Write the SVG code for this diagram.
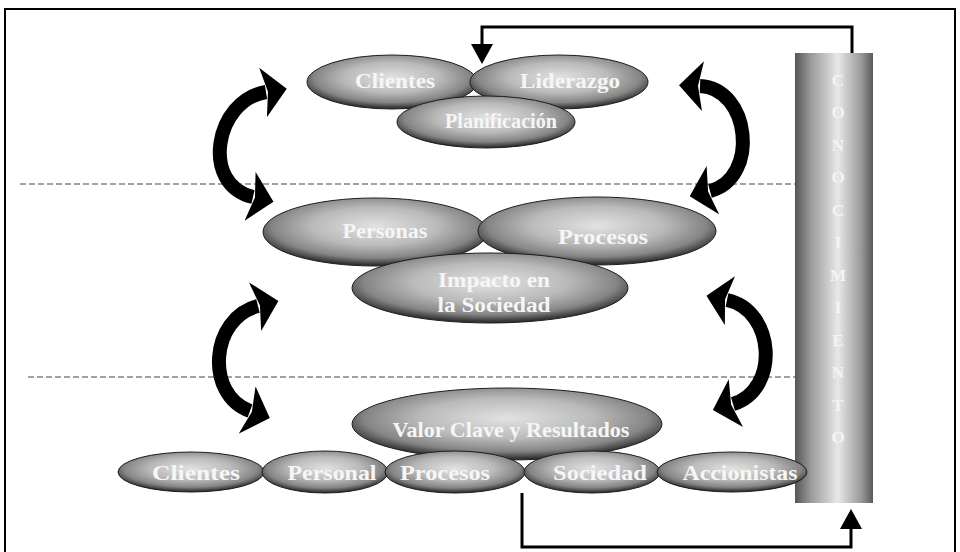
<svg xmlns="http://www.w3.org/2000/svg" width="960" height="552" viewBox="0 0 960 552">
  <defs>
    <radialGradient id="eggFill" cx="0.5" cy="0.42" r="0.56">
      <stop offset="0" stop-color="#e2e2e2"/>
      <stop offset="0.5" stop-color="#bababa"/>
      <stop offset="0.82" stop-color="#858585"/>
      <stop offset="1" stop-color="#333"/>
    </radialGradient>
    <linearGradient id="barFill" x1="0" y1="0" x2="1" y2="0">
      <stop offset="0" stop-color="#555"/>
      <stop offset="0.2" stop-color="#999"/>
      <stop offset="0.55" stop-color="#e8e8e8"/>
      <stop offset="0.85" stop-color="#999"/>
      <stop offset="1" stop-color="#5a5a5a"/>
    </linearGradient>
    <marker id="bigHead" markerUnits="userSpaceOnUse" markerWidth="24" markerHeight="50" viewBox="0 0 24 50" refX="3" refY="25" orient="auto-start-reverse">
      <path d="M0,0 L24,25 L0,50 L5,25 Z" fill="#000"/>
    </marker>
    <marker id="smallHead" markerUnits="userSpaceOnUse" markerWidth="20" markerHeight="22" viewBox="0 0 20 22" refX="2" refY="11" orient="auto">
      <path d="M0,0 L20,11 L0,22 Z" fill="#000"/>
    </marker>
  </defs>
  <style>
    .egg { fill: url(#eggFill); stroke: #1e1e1e; stroke-width: 1; }
    .lbl { font-family: "Liberation Serif", "Times New Roman", serif; font-weight: bold; font-size: 21px; fill: #f6f6f6; text-anchor: middle; }
    .bar-letter { font-family: "Liberation Serif", "Times New Roman", serif; font-weight: bold; font-size: 17px; fill: #f4f4f4; text-anchor: middle; }
    .guide { stroke: #444; stroke-width: 1; stroke-dasharray: 6 3; fill: none; }
    .flow { stroke: #000; stroke-width: 3; fill: none; }
    .cycle { stroke: #000; stroke-width: 14; fill: none; marker-start: url(#bigHead); marker-end: url(#bigHead); }
  </style>

  <rect x="0" y="0" width="960" height="552" fill="#fff"/>
  <!-- outer frame -->
  <rect x="5" y="9" width="950" height="560" fill="none" stroke="#000" stroke-width="2"/>

  <!-- level separators -->
  <line class="guide" x1="20" y1="184" x2="795" y2="184"/>
  <line class="guide" x1="28" y1="377" x2="800" y2="377"/>
  <line x1="795" y1="377" x2="821" y2="377" stroke="#222" stroke-width="1.2"/>

  <!-- knowledge column -->
  <g id="conocimiento">
    <rect x="795" y="53" width="78" height="450" fill="url(#barFill)"/>
    <text class="bar-letter" x="838" y="86">C</text>
    <text class="bar-letter" x="838" y="118">O</text>
    <text class="bar-letter" x="838" y="151">N</text>
    <text class="bar-letter" x="838" y="183">O</text>
    <text class="bar-letter" x="838" y="216">C</text>
    <text class="bar-letter" x="838" y="248">I</text>
    <text class="bar-letter" x="838" y="281">M</text>
    <text class="bar-letter" x="838" y="313">I</text>
    <text class="bar-letter" x="838" y="346">E</text>
    <text class="bar-letter" x="838" y="378">N</text>
    <text class="bar-letter" x="838" y="411">T</text>
    <text class="bar-letter" x="838" y="443">O</text>
  </g>

  <!-- connectors -->
  <g id="connectors">
    <polyline class="flow" points="852,53 852,27 482,27 482,46" marker-end="url(#smallHead)"/>
    <polyline class="flow" points="522,493 522,547 851,547 851,527" marker-end="url(#smallHead)"/>
    <path class="cycle" d="M 266,92 C 215,100 200,185 253,197"/>
    <path class="cycle" d="M 700,86 C 750,88 760,178 710,191"/>
    <path class="cycle" d="M 258,306 C 210,318 205,395 250,411"/>
    <path class="cycle" d="M 727,300 C 775,310 780,390 733,404"/>
  </g>

  <!-- top level -->
  <g id="clientes-top">
    <ellipse class="egg" cx="392" cy="82" rx="85" ry="27"/>
    <text class="lbl" x="395" y="88" textLength="80" lengthAdjust="spacingAndGlyphs">Clientes</text>
  </g>
  <g id="liderazgo">
    <ellipse class="egg" cx="559" cy="82" rx="89" ry="27"/>
    <text class="lbl" x="570" y="88" textLength="100" lengthAdjust="spacingAndGlyphs">Liderazgo</text>
  </g>
  <g id="planificacion">
    <ellipse class="egg" cx="486" cy="122" rx="89" ry="26"/>
    <text class="lbl" x="501" y="128" textLength="112" lengthAdjust="spacingAndGlyphs">Planificación</text>
  </g>

  <!-- middle level -->
  <g id="personas">
    <ellipse class="egg" cx="375" cy="232" rx="112" ry="34"/>
    <text class="lbl" x="385" y="238" textLength="85" lengthAdjust="spacingAndGlyphs">Personas</text>
  </g>
  <g id="procesos-mid">
    <ellipse class="egg" cx="597" cy="231" rx="119" ry="34"/>
    <text class="lbl" x="603" y="244" textLength="90" lengthAdjust="spacingAndGlyphs">Procesos</text>
  </g>
  <g id="impacto">
    <ellipse class="egg" cx="490" cy="288" rx="138" ry="35"/>
    <text class="lbl" x="494" y="287" textLength="112" lengthAdjust="spacingAndGlyphs">Impacto en</text>
    <text class="lbl" x="494" y="312" textLength="113" lengthAdjust="spacingAndGlyphs">la Sociedad</text>
  </g>

  <!-- results level -->
  <g id="valor">
    <ellipse class="egg" cx="507" cy="424" rx="155" ry="36"/>
    <text class="lbl" x="511" y="437" textLength="237" lengthAdjust="spacingAndGlyphs">Valor Clave y Resultados</text>
  </g>
  <g id="clientes">
    <ellipse class="egg" cx="191" cy="472" rx="73" ry="20"/>
    <text class="lbl" x="196" y="480" textLength="88" lengthAdjust="spacingAndGlyphs">Clientes</text>
  </g>
  <g id="personal">
    <ellipse class="egg" cx="325" cy="472" rx="63" ry="21"/>
    <text class="lbl" x="332" y="480" textLength="89" lengthAdjust="spacingAndGlyphs">Personal</text>
  </g>
  <g id="procesos">
    <ellipse class="egg" cx="455" cy="472" rx="70" ry="21"/>
    <text class="lbl" x="445" y="480" textLength="90" lengthAdjust="spacingAndGlyphs">Procesos</text>
  </g>
  <g id="sociedad">
    <ellipse class="egg" cx="592" cy="472" rx="68" ry="21"/>
    <text class="lbl" x="600" y="480" textLength="94" lengthAdjust="spacingAndGlyphs">Sociedad</text>
  </g>
  <g id="accionistas">
    <ellipse class="egg" cx="732" cy="472" rx="75" ry="20"/>
    <text class="lbl" x="740" y="480" textLength="115" lengthAdjust="spacingAndGlyphs">Accionistas</text>
  </g>
</svg>
